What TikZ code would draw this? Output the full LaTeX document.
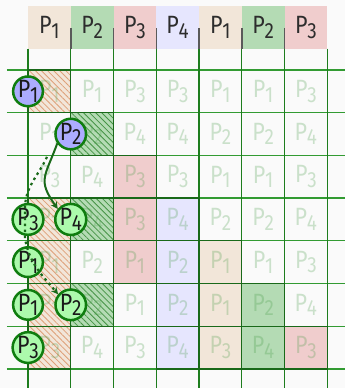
\documentclass[tikz,border=0pt]{standalone}
\usepackage{fontspec}
\setmainfont{Fira Sans}
\usetikzlibrary{patterns.meta,arrows.meta}
\definecolor{bg}{RGB}{250,250,250}
\definecolor{cA}{RGB}{242,230,217}
\definecolor{cB}{RGB}{180,219,180}
\definecolor{cC}{RGB}{240,205,205}
\definecolor{cD}{RGB}{230,230,254}
\definecolor{vgrid}{RGB}{30,125,30}
\definecolor{hgrid}{RGB}{50,155,50}
\definecolor{darkg}{RGB}{25,105,25}
\definecolor{hatchA}{RGB}{222,160,120}
\definecolor{hatchB}{RGB}{70,148,70}
\definecolor{circB}{RGB}{15,125,15}
\definecolor{fillL}{RGB}{172,172,255}
\definecolor{fillG}{RGB}{172,250,172}
\definecolor{fadet}{RGB}{60,150,60}
\definecolor{headt}{RGB}{45,45,45}
\definecolor{sepg}{RGB}{90,90,90}
\newcommand\Pl[1]{\scalebox{0.86}[1]{P\kern-0.3pt\raisebox{-0.18em}{\fontsize{22}{22}\selectfont #1}}}
\tikzset{
  bigfont/.style={font=\fontsize{25}{25}\selectfont},
  celltext/.style={bigfont, text=fadet, text opacity=0.25, inner sep=0pt},
  headtext/.style={bigfont, text=headt, inner sep=0pt},
  cellbox/.style={draw=darkg, line width=1.4pt},
  proc/.style={circle, draw=circB, line width=2.5pt, minimum size=29pt, inner sep=0pt, bigfont, text=black!90},
  procL/.style={proc, fill=fillL},
  procG/.style={proc, fill=fillG},
  solidarrow/.style={draw=darkg, line width=2pt, -{Stealth[length=7pt,width=7pt]}},
  dotarrow/.style={draw=darkg, line width=2.2pt, dash pattern=on 2.5pt off 3.5pt, -{Stealth[length=7pt,width=7pt]}},
}
\begin{document}
\begin{tikzpicture}[x=42.75pt, y=42.7pt]
\useasboundingbox (-28pt,-19.1pt) rectangle (317pt,368.9pt);
\fill[bg] (-28pt,-19.1pt) rectangle (317pt,368.9pt);
% header fills
\foreach \c/\col in {0/cA,1/cB,2/cC,3/cD,4/cA,5/cB,6/cC}
  \fill[\col] (\c,7.5) rectangle ++(1,1);
% plain cell fills
\foreach \c/\r/\col in {2/3/cC,2/4/cC,2/5/cC,6/7/cC,3/4/cD,3/5/cD,3/6/cD,3/7/cD,4/5/cA,4/6/cA,4/7/cA,5/6/cB,5/7/cB}
  \fill[\col] (\c,7-\r) rectangle ++(1,1);
% hatched cells
\foreach \c/\r in {0/1,0/4,0/5,0/6,0/7} {
  \fill[cA] (\c,7-\r) rectangle ++(1,1);
  \fill[pattern={Lines[angle=-45,distance=4.3pt,line width=0.8pt]}, pattern color=hatchA] (\c,7-\r) rectangle ++(1,1);
}
\foreach \c/\r in {1/2,1/4,1/6} {
  \fill[cB] (\c,7-\r) rectangle ++(1,1);
  \fill[pattern={Lines[angle=-45,distance=4.3pt,line width=0.8pt]}, pattern color=hatchB] (\c,7-\r) rectangle ++(1,1);
}
% grid
\foreach \y in {0,...,7}
  \draw[hgrid, line width=1.2pt] (-21pt,\y) -- (317pt,\y);
\foreach \x in {0,...,7}
  \draw[vgrid, line width=1.2pt] (\x,7.5) -- (\x,-19.1pt);
% borders of coloured cells
\foreach \c/\r in {2/3,2/4,2/5,6/7,3/4,3/5,3/6,3/7,4/5,4/6,4/7,5/6,5/7,0/1,0/4,0/5,0/6,0/7,1/2,1/4,1/6}
  \draw[cellbox] (\c,7-\r) rectangle ++(1,1);
% header separators
\foreach \x in {1,...,6}
  \draw[sepg, line width=1.5pt] (\x,7.5) -- (\x,7.98);
% header texts
\foreach \v [count=\i] in {1,2,3,4,1,2,3}
  \node[headtext] (h\i) at (\i-0.5,8) {\Pl{\v}};
% cell texts
\foreach \row [count=\j] in {{1,1,3,3,1,1,3},{1,2,4,4,2,2,4},{3,4,3,3,1,1,3},{3,4,3,4,2,2,4},{1,2,1,2,1,1,3},{1,2,1,2,1,2,4},{3,4,3,4,3,4,3}}
  \foreach \v [count=\i] in \row
    \node[celltext] (t\j-\i) at (\i-0.5,7.5-\j) {\Pl{\v}};
% process circles
\node[procL] (c1) at (0,6.5) {\Pl{1}};
\node[procL] (c2) at (1,5.5) {\Pl{2}};
\node[procG] (c4a) at (0,3.5) {\Pl{3}};
\node[procG] (c4b) at (1,3.5) {\Pl{4}};
\node[procG] (c5) at (0,2.5) {\Pl{1}};
\node[procG] (c6a) at (0,1.5) {\Pl{1}};
\node[procG] (c6b) at (1,1.5) {\Pl{2}};
\node[procG] (c7) at (0,0.5) {\Pl{3}};
% arrows
\draw[solidarrow] (c2.215) to[out=250,in=125,looseness=1.4] (c4b.141);
\coordinate (d0) at (0.444,4.963);
\coordinate (d1) at (-0.07,3.75);
\coordinate (d2) at (-0.07,3.05);
\draw[dotarrow] (d0) to[out=245,in=90] (d1) -- (d2) to[out=-80,in=130] (c6b.140);
\end{tikzpicture}
\end{document}
